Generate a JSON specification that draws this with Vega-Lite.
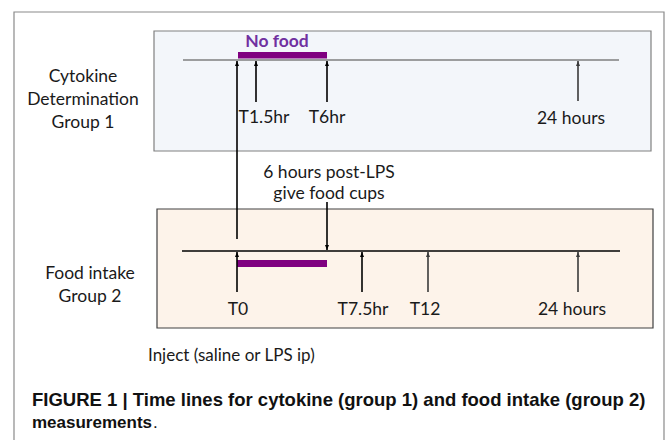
{
  "$schema": "https://vega.github.io/schema/vega-lite/v6.json",
  "width": 667,
  "height": 440,
  "padding": 0,
  "autosize": {"type": "none"},
  "background": "#ffffff",
  "config": {"view": {"stroke": null}, "axis": {"disable": true}},
  "datasets": {
    "boxes": [
      {"name": "outer", "x": 14, "x2": 664, "y": 12, "y2": 470},
      {"name": "group1", "x": 154, "x2": 651, "y": 31, "y2": 151},
      {"name": "group2", "x": 157, "x2": 653, "y": 209, "y2": 328}
    ],
    "timelines": [
      {"group": "group1", "x": 183, "x2": 619, "y": 60, "tone": "light"},
      {"group": "group2", "x": 182, "x2": 620, "y": 251, "tone": "black"}
    ],
    "nofood": [
      {"group": "group1", "x": 238, "x2": 327, "y": 52, "y2": 58.5},
      {"group": "group2", "x": 237, "x2": 327, "y": 260, "y2": 267}
    ],
    "arrows": [
      {"label": "T0 inject", "x": 237, "tip": 61, "tail": 239, "dir": "up", "tone": "black"},
      {"label": "T1.5hr", "x": 256, "tip": 61, "tail": 102, "dir": "up", "tone": "black"},
      {"label": "T6hr", "x": 327, "tip": 61, "tail": 102, "dir": "up", "tone": "black"},
      {"label": "24 hours g1", "x": 578, "tip": 61, "tail": 101, "dir": "up", "tone": "gray"},
      {"label": "T0", "x": 237, "tip": 252, "tail": 292, "dir": "up", "tone": "black"},
      {"label": "T7.5hr", "x": 362, "tip": 252, "tail": 292, "dir": "up", "tone": "black"},
      {"label": "T12", "x": 428, "tip": 252, "tail": 292, "dir": "up", "tone": "gray"},
      {"label": "24 hours g2", "x": 578, "tip": 252, "tail": 292, "dir": "up", "tone": "gray"},
      {"label": "food cups", "x": 327, "tip": 250, "tail": 202, "dir": "down", "tone": "black"}
    ],
    "labels": [
      {"text": "Cytokine", "x": 83, "y": 82},
      {"text": "Determination", "x": 83, "y": 105},
      {"text": "Group 1", "x": 83, "y": 128},
      {"text": "T1.5hr", "x": 264, "y": 123},
      {"text": "T6hr", "x": 327, "y": 123},
      {"text": "24 hours", "x": 571, "y": 124},
      {"text": "6 hours post-LPS", "x": 329, "y": 178},
      {"text": "give food cups", "x": 329, "y": 199},
      {"text": "Food intake", "x": 90, "y": 279},
      {"text": "Group 2", "x": 90, "y": 302},
      {"text": "T0", "x": 238, "y": 315},
      {"text": "T7.5hr", "x": 363, "y": 315},
      {"text": "T12", "x": 425, "y": 315},
      {"text": "24 hours", "x": 572, "y": 315}
    ],
    "leftlabels": [
      {"text": "Inject (saline or LPS ip)", "x": 148, "y": 361}
    ],
    "title": [
      {"text": "No food", "x": 277, "y": 47}
    ],
    "caption1": [
      {"text": "FIGURE 1 | Time lines for cytokine (group 1) and food intake (group 2)", "x": 32, "y": 406}
    ],
    "caption2": [
      {"text": "measurements", "x": 32, "y": 428}
    ],
    "period": [
      {"text": ".", "x": 153, "y": 428}
    ]
  },
  "layer": [
    {
      "data": {"name": "boxes"},
      "mark": {"type": "rect", "strokeWidth": 1.2, "clip": true},
      "encoding": {
        "x": {"field": "x", "type": "quantitative", "scale": {"domain": [0, 667], "nice": false, "zero": false}, "axis": null},
        "x2": {"field": "x2"},
        "y": {"field": "y", "type": "quantitative", "scale": {"domain": [0, 440], "nice": false, "zero": false, "reverse": true}, "axis": null},
        "y2": {"field": "y2"},
        "fill": {"field": "name", "type": "nominal", "scale": {"domain": ["outer", "group1", "group2"], "range": ["#ffffff", "#f3f6fa", "#fdf3ea"]}, "legend": null},
        "stroke": {"field": "name", "type": "nominal", "scale": {"domain": ["outer", "group1", "group2"], "range": ["#8a8a8a", "#808080", "#404040"]}, "legend": null}
      }
    },
    {
      "data": {"name": "timelines"},
      "mark": {"type": "rule", "strokeWidth": 1.6},
      "encoding": {
        "x": {"field": "x", "type": "quantitative"},
        "x2": {"field": "x2"},
        "y": {"field": "y", "type": "quantitative"},
        "color": {"field": "tone", "type": "nominal", "scale": {"domain": ["black", "gray", "light"], "range": ["#000000", "#3a3a3a", "#7f7f7f"]}, "legend": null}
      }
    },
    {
      "data": {"name": "nofood"},
      "mark": {"type": "rect", "color": "#800080"},
      "encoding": {
        "x": {"field": "x", "type": "quantitative"},
        "x2": {"field": "x2"},
        "y": {"field": "y", "type": "quantitative"},
        "y2": {"field": "y2"}
      }
    },
    {
      "data": {"name": "arrows"},
      "mark": {"type": "rule", "strokeWidth": 1.6},
      "encoding": {
        "x": {"field": "x", "type": "quantitative"},
        "y": {"field": "tip", "type": "quantitative"},
        "y2": {"field": "tail"},
        "color": {"field": "tone", "type": "nominal", "legend": null}
      }
    },
    {
      "data": {"name": "arrows"},
      "mark": {"type": "point", "filled": true, "opacity": 1, "size": 25},
      "encoding": {
        "x": {"field": "x", "type": "quantitative"},
        "y": {"field": "tip", "type": "quantitative"},
        "shape": {"field": "dir", "type": "nominal", "scale": {"domain": ["up", "down"], "range": ["M0,0L0.8,2L-0.8,2Z", "M0,0L0.8,-2L-0.8,-2Z"]}, "legend": null},
        "color": {"field": "tone", "type": "nominal", "legend": null}
      }
    },
    {
      "data": {"name": "labels"},
      "mark": {"type": "text", "font": "Lato", "fontSize": 17.5, "color": "#1a1a1a", "align": "center", "baseline": "alphabetic"},
      "encoding": {
        "x": {"field": "x", "type": "quantitative"},
        "y": {"field": "y", "type": "quantitative"},
        "text": {"field": "text"}
      }
    },
    {
      "data": {"name": "leftlabels"},
      "mark": {"type": "text", "font": "Lato", "fontSize": 17, "color": "#1a1a1a", "align": "left", "baseline": "alphabetic"},
      "encoding": {
        "x": {"field": "x", "type": "quantitative"},
        "y": {"field": "y", "type": "quantitative"},
        "text": {"field": "text"}
      }
    },
    {
      "data": {"name": "title"},
      "mark": {"type": "text", "font": "Lato", "fontSize": 17.5, "fontWeight": "bold", "color": "#7030a0", "align": "center", "baseline": "alphabetic"},
      "encoding": {
        "x": {"field": "x", "type": "quantitative"},
        "y": {"field": "y", "type": "quantitative"},
        "text": {"field": "text"}
      }
    },
    {
      "data": {"name": "caption1"},
      "mark": {"type": "text", "font": "Liberation Sans", "fontSize": 18.5, "fontWeight": "bold", "color": "#111111", "align": "left", "baseline": "alphabetic"},
      "encoding": {
        "x": {"field": "x", "type": "quantitative"},
        "y": {"field": "y", "type": "quantitative"},
        "text": {"field": "text"}
      }
    },
    {
      "data": {"name": "caption2"},
      "mark": {"type": "text", "font": "Liberation Sans", "fontSize": 17, "fontWeight": "bold", "color": "#111111", "align": "left", "baseline": "alphabetic"},
      "encoding": {
        "x": {"field": "x", "type": "quantitative"},
        "y": {"field": "y", "type": "quantitative"},
        "text": {"field": "text"}
      }
    },
    {
      "data": {"name": "period"},
      "mark": {"type": "text", "font": "Liberation Sans", "fontSize": 17, "color": "#111111", "align": "left", "baseline": "alphabetic"},
      "encoding": {
        "x": {"field": "x", "type": "quantitative"},
        "y": {"field": "y", "type": "quantitative"},
        "text": {"field": "text"}
      }
    }
  ]
}
